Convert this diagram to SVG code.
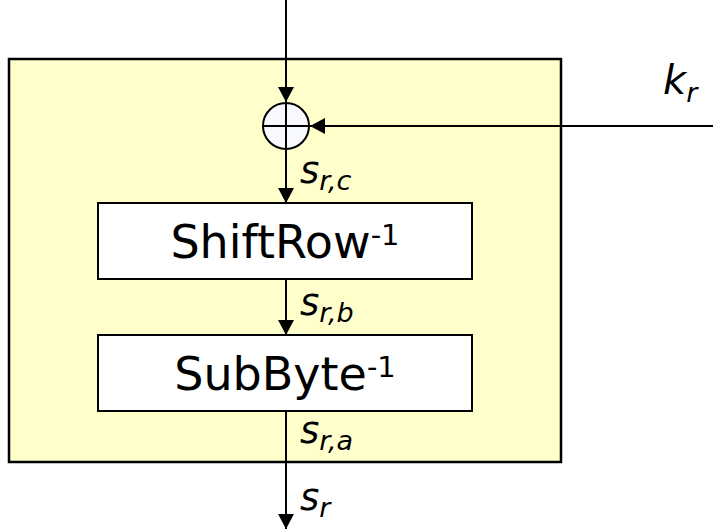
<svg xmlns="http://www.w3.org/2000/svg" width="713" height="529" viewBox="0 0 713 529">
  <style>
    .frame { fill: #FFFFCC; stroke: #000; stroke-width: 2.5; }
    .box { fill: #FFFFFF; stroke: #000; stroke-width: 2; }
    .xor { fill: #F8F8FF; stroke: #000; stroke-width: 2; }
    .wire { fill: none; stroke: #000; stroke-width: 2; }
    .op { font-family: "DejaVu Sans", Verdana, sans-serif; font-size: 46px; fill: #000; }
    .sup { font-size: 29px; }
    .var { font-family: "DejaVu Sans", Verdana, sans-serif; font-style: italic; font-size: 37px; fill: #000; }
    .sub { font-size: 27px; }
  </style>
  <defs>
    <marker id="arrow" markerUnits="userSpaceOnUse" markerWidth="15" markerHeight="16" viewBox="0 0 15 16" refX="15" refY="8" orient="auto">
      <path d="M0,0 L15,8 L0,16 Z" fill="#000"/>
    </marker>
  </defs>

  <!-- round frame -->
  <rect id="frame" class="frame" x="9" y="59" width="552" height="403"/>

  <!-- connectors -->
  <g id="connectors">
    <line class="wire" x1="286" y1="0" x2="286" y2="102" marker-end="url(#arrow)"/>
    <line class="wire" x1="713" y1="126" x2="310" y2="126" marker-end="url(#arrow)"/>
    <line class="wire" x1="286" y1="149" x2="286" y2="203" marker-end="url(#arrow)"/>
    <line class="wire" x1="286" y1="279" x2="286" y2="335" marker-end="url(#arrow)"/>
    <line class="wire" x1="286" y1="411" x2="286" y2="529" marker-end="url(#arrow)"/>
  </g>

  <!-- key addition (XOR) -->
  <g id="xor">
    <circle class="xor" cx="286" cy="126" r="23"/>
    <line class="wire" x1="263" y1="126" x2="309" y2="126"/>
    <line class="wire" x1="286" y1="103" x2="286" y2="149"/>
  </g>

  <g id="shiftrow">
    <rect class="box" x="98" y="203" width="374" height="76"/>
    <text class="op" x="285" y="258" text-anchor="middle">ShiftRow<tspan class="sup" dy="-13">-1</tspan></text>
  </g>

  <g id="subbyte">
    <rect class="box" x="98" y="335" width="374" height="76"/>
    <text class="op" x="285" y="390" text-anchor="middle">SubByte<tspan class="sup" dy="-13">-1</tspan></text>
  </g>

  <!-- state and key labels -->
  <g id="labels">
    <text class="var" x="663" y="94" style="font-size:40px">k<tspan class="sub" dy="8">r</tspan></text>
    <text class="var" x="300" y="183">s<tspan class="sub" dy="7">r,c</tspan></text>
    <text class="var" x="300" y="315">s<tspan class="sub" dy="7">r,b</tspan></text>
    <text class="var" x="300" y="443">s<tspan class="sub" dy="7">r,a</tspan></text>
    <text class="var" x="300" y="510">s<tspan class="sub" dy="7">r</tspan></text>
  </g>
</svg>
